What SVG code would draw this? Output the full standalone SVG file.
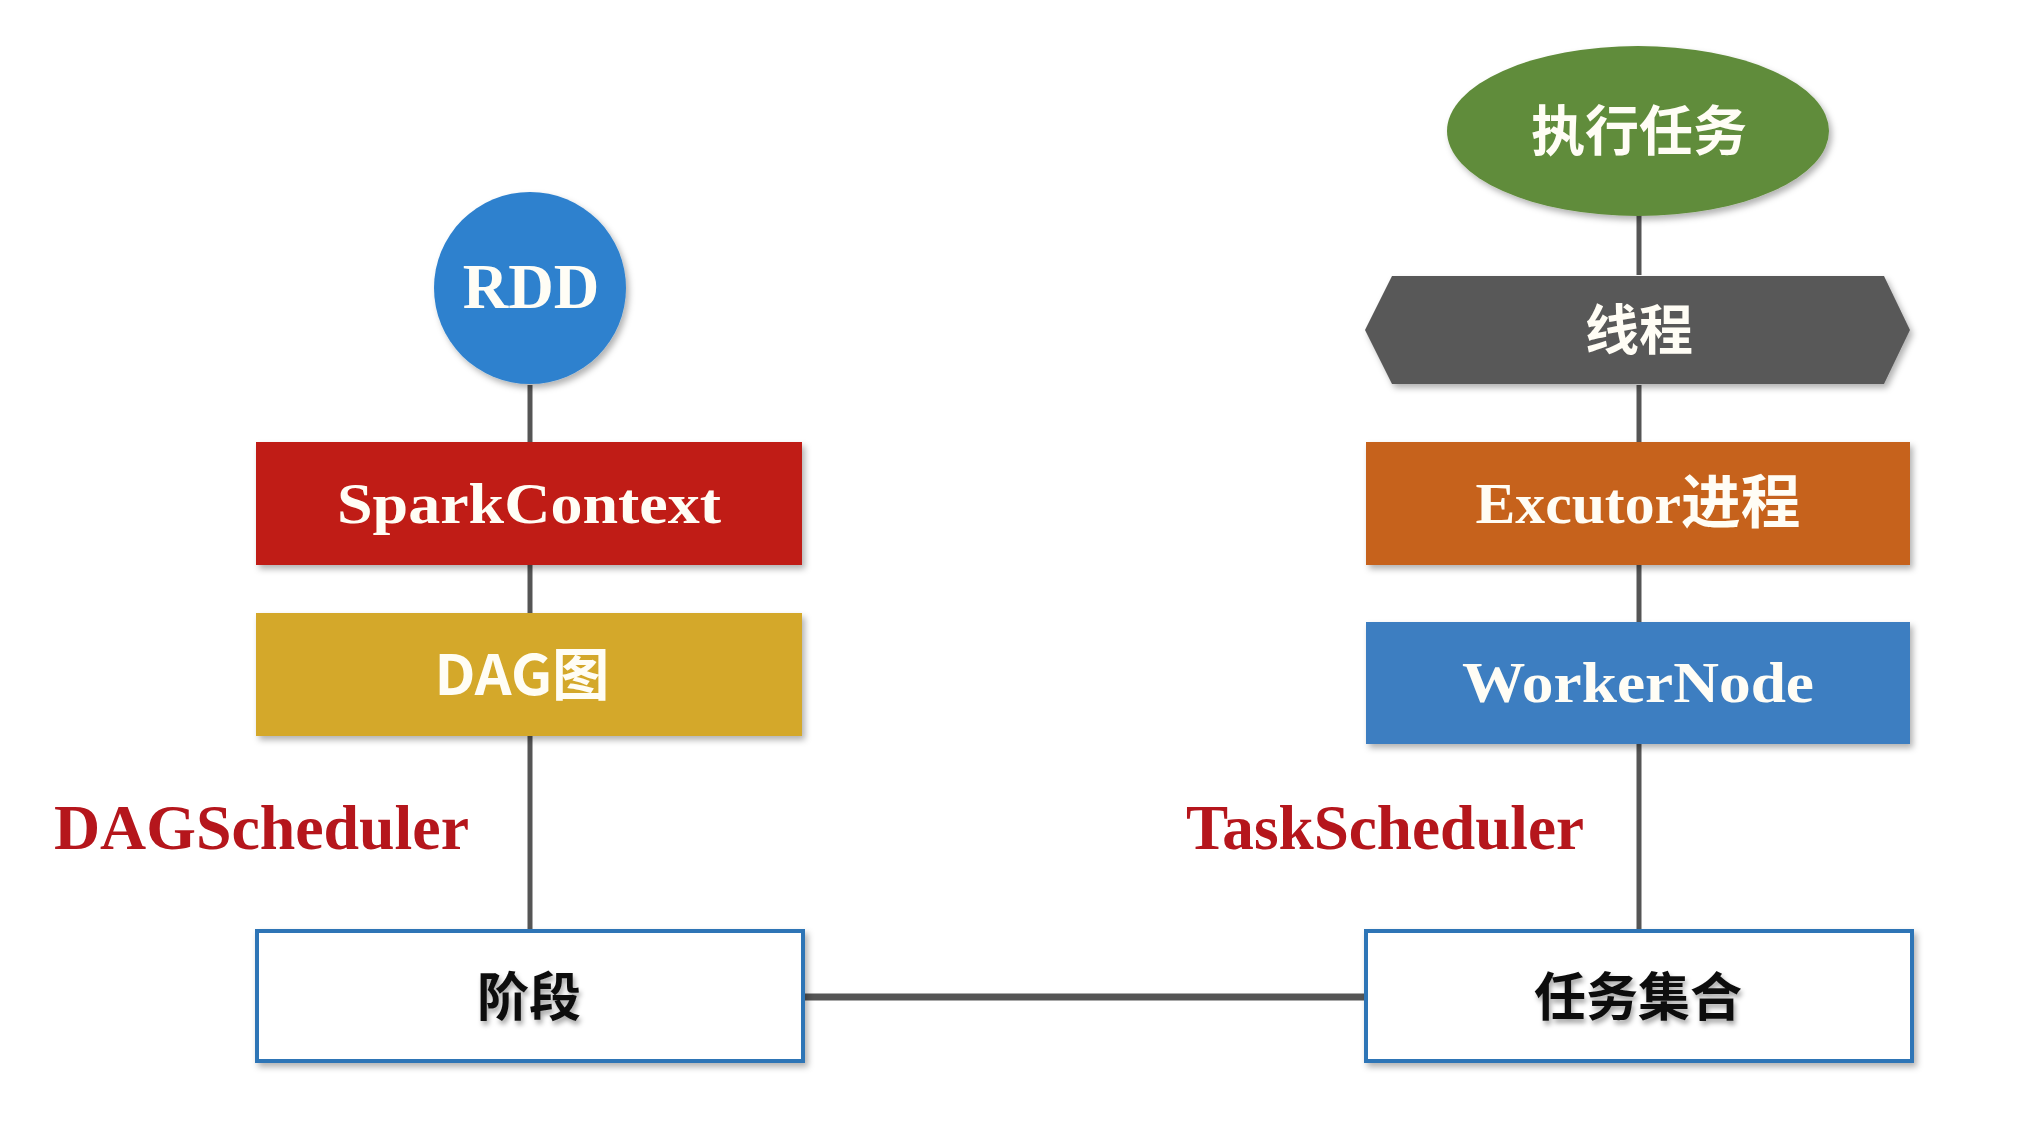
<svg xmlns="http://www.w3.org/2000/svg" width="2032" height="1122" viewBox="0 0 2032 1122">
<defs>
<filter id="sh" x="-10%" y="-10%" width="125%" height="130%">
<feDropShadow dx="3" dy="4" stdDeviation="3" flood-color="#000" flood-opacity="0.3"/>
</filter>
<filter id="tsh" x="-10%" y="-20%" width="130%" height="150%">
<feDropShadow dx="2" dy="4" stdDeviation="2.5" flood-color="#000" flood-opacity="0.35"/>
</filter>
</defs>
<style>
.conn{stroke:#555;stroke-width:5;fill:none}
.serif{font-family:"Liberation Serif","Times New Roman",serif;font-weight:bold}
.cjk{font-family:"Noto Sans CJK SC","Noto Sans",sans-serif;font-weight:bold}
.wt{fill:#FFFDF5;text-anchor:middle}
.bt{fill:#111;text-anchor:middle}
.lbl{fill:#B5161C}
.box{filter:url(#sh)}
</style>
<rect width="2032" height="1122" fill="#FFFFFF"/>
<g id="connectors">
<line class="conn" x1="530" y1="385" x2="530" y2="442"/>
<line class="conn" x1="530" y1="565" x2="530" y2="613"/>
<line class="conn" x1="530" y1="736" x2="530" y2="929"/>
<line class="conn" x1="804" y1="997" x2="1365" y2="997" style="stroke-width:7"/>
<line class="conn" x1="1639" y1="744" x2="1639" y2="929"/>
<line class="conn" x1="1639" y1="565" x2="1639" y2="622"/>
<line class="conn" x1="1639" y1="385" x2="1639" y2="442"/>
<line class="conn" x1="1639" y1="215" x2="1639" y2="275"/>
</g>
<g id="rdd">
<circle class="box" cx="530" cy="288" r="96" fill="#2E81CE"/>
<text class="serif wt" x="531" y="308" font-size="63">RDD</text>
</g>
<g id="sparkcontext">
<rect class="box" x="256" y="442" width="546" height="123" fill="#C01B18"/>
<text class="serif wt" x="529" y="523" font-size="58" textLength="384" lengthAdjust="spacingAndGlyphs">SparkContext</text>
</g>
<g id="dag">
<rect class="box" x="256" y="613" width="546" height="123" fill="#D4A82A"/>
<text class="cjk wt" x="522" y="695" font-size="56" textLength="175" lengthAdjust="spacingAndGlyphs">DAG图</text>
</g>
<g id="dagscheduler">
<text class="serif lbl" x="54" y="849" font-size="64" textLength="415" lengthAdjust="spacingAndGlyphs">DAGScheduler</text>
</g>
<g id="stage">
<rect class="box" x="257" y="931" width="546" height="130" fill="#FFFFFF" stroke="#2E75B6" stroke-width="4"/>
<text class="cjk bt" x="529" y="1016" font-size="52" filter="url(#tsh)">阶段</text>
</g>
<g id="execute">
<ellipse class="box" cx="1638" cy="131" rx="191" ry="85" fill="#608C3A"/>
<text class="cjk wt" x="1639" y="151" font-size="54">执行任务</text>
</g>
<g id="thread">
<polygon class="box" points="1392,276 1884,276 1910,330 1884,384 1392,384 1365,330" fill="#595959"/>
<text class="cjk wt" x="1639" y="350" font-size="54">线程</text>
</g>
<g id="executor">
<rect class="box" x="1366" y="442" width="544" height="123" fill="#C6621E"/>
<text class="wt" x="1638" y="523" font-size="58" textLength="325" lengthAdjust="spacingAndGlyphs"><tspan class="serif">Excutor</tspan><tspan class="cjk">进程</tspan></text>
</g>
<g id="workernode">
<rect class="box" x="1366" y="622" width="544" height="122" fill="#3D7EC1"/>
<text class="serif wt" x="1638" y="702" font-size="58" textLength="352" lengthAdjust="spacingAndGlyphs">WorkerNode</text>
</g>
<g id="taskscheduler">
<text class="serif lbl" x="1186" y="849" font-size="63" textLength="398" lengthAdjust="spacingAndGlyphs">TaskScheduler</text>
</g>
<g id="taskset">
<rect class="box" x="1366" y="931" width="546" height="130" fill="#FFFFFF" stroke="#2E75B6" stroke-width="4"/>
<text class="cjk bt" x="1638" y="1016" font-size="52" filter="url(#tsh)">任务集合</text>
</g>
</svg>
